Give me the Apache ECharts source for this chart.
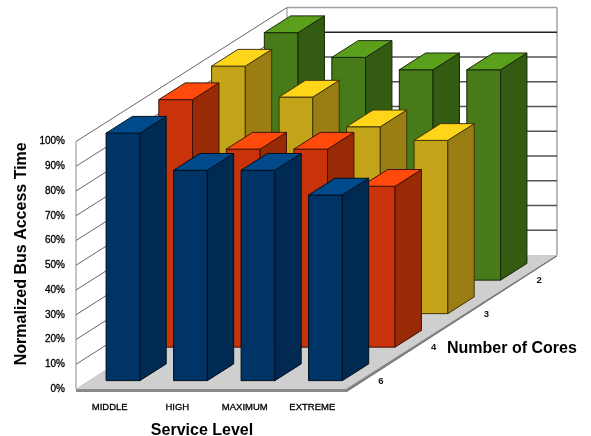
<!DOCTYPE html>
<html>
<head>
<meta charset="utf-8">
<style>html,body{margin:0;padding:0;background:#fff}#c{width:591px;height:436px;filter:blur(0.35px)}</style>
<script src="https://cdn.jsdelivr.net/npm/echarts@6/dist/echarts.min.js"></script>
</head>
<body>
<div id="c"></div>
<script>
var categories = ['MIDDLE', 'HIGH', 'MAXIMUM', 'EXTREME'];
var coreLabels = ['6', '4', '3', '2'];
var cores6 = [100, 85, 85, 75];
var cores4 = [100, 80, 80, 65];
var cores3 = [100, 87.5, 75.5, 70];
var cores2 = [100, 90, 85, 85];
var yTicks = [0, 10, 20, 30, 40, 50, 60, 70, 80, 90, 100];

var DX = 52.75, DY = -33.5;
function poly(points, fill, stroke, w) {
  return { type: 'polygon', shape: { points: points }, style: { fill: fill, stroke: stroke || 'none', lineWidth: w || 0, lineJoin: 'round' } };
}
function line(a, b, color, w) {
  return { type: 'line', shape: { x1: a[0], y1: a[1], x2: b[0], y2: b[1] }, style: { stroke: color, lineWidth: w, fill: 'none' } };
}
function barSeries(values, row, pal, z) {
  return {
    type: 'custom', z: z, coordinateSystem: 'cartesian2d', silent: true,
    data: values.map(function (v, i) { return [i, v]; }),
    encode: { x: 0, y: 1 },
    renderItem: function (params, api) {
      var top = api.coord([api.value(0), api.value(1)]);
      var base = api.coord([api.value(0), 0]);
      var w = api.size([1, 0])[0] / 2;
      var ox = DX * (row + 0.25), oy = DY * (row + 0.25);
      var dx = DX / 2, dy = DY / 2;
      var l = top[0] - w / 2 + ox, r = l + w;
      var t = top[1] + oy, b = base[1] + oy;
      return { type: 'group', children: [
        poly([[l, t], [r, t], [r, b], [l, b]], pal[0], pal[3], 1),
        poly([[r, t], [r + dx, t + dy], [r + dx, b + dy], [r, b]], pal[1], pal[3], 1),
        poly([[l, t], [l + dx, t + dy], [r + dx, t + dy], [r, t]], pal[2], pal[3], 1)
      ] };
    }
  };
}
var option = {
  animation: false,
  backgroundColor: '#fff',
  textStyle: { fontFamily: 'Liberation Sans' },
  grid: { left: 76, top: 141.5, width: 270, height: 247.5, outerBoundsMode: 'none' },
  xAxis: {
    type: 'category', data: categories,
    axisLine: { show: false }, axisTick: { show: false },
    axisLabel: { color: '#000', fontSize: 9.5, margin: 13, interval: 0, fontFamily: 'Liberation Sans', textBorderColor: '#000', textBorderWidth: 0.3 },
    name: 'Service Level', nameLocation: 'middle', nameGap: 34,
    nameTextStyle: { color: '#000', fontSize: 16, fontWeight: 'bold', fontFamily: 'Liberation Sans', padding: [0, 18, 0, 0] }
  },
  yAxis: {
    type: 'value', min: 0, max: 100, interval: 10,
    splitLine: { show: false }, axisLine: { show: false }, axisTick: { show: false },
    axisLabel: { color: '#000', fontSize: 10, margin: 11, formatter: '{value}%', fontFamily: 'Liberation Sans', padding: [5, 0, 0, 0], verticalAlign: 'middle', textBorderColor: '#000', textBorderWidth: 0.3 },
    name: 'Normalized Bus Access Time', nameLocation: 'middle', nameGap: 46,
    nameTextStyle: { color: '#000', fontSize: 16, fontWeight: 'bold', fontFamily: 'Liberation Sans', padding: [0, 0, 0, 23] }
  },
  series: [
    {
      type: 'custom', z: 1, coordinateSystem: 'cartesian2d', silent: true,
      data: yTicks.map(function (v) { return [0, v]; }),
      encode: { x: 0, y: 1 },
      renderItem: function (params, api) {
        var bw = api.size([1, 0])[0];
        var left = api.coord([0, 0])[0] - bw / 2;
        var right = left + bw * categories.length;
        var y = api.coord([0, api.value(1)])[1];
        var y0 = api.coord([0, 0])[1], y1 = api.coord([0, 100])[1];
        var n = coreLabels.length;
        var bx = DX * n, by = DY * n;
        var ch = [];
        if (params.dataIndex === 0) {
          ch.push(poly([[left, y1], [left + bx, y1 + by], [left + bx, y0 + by], [left, y0]], '#fff', 'none'));
          ch.push(poly([[left + bx, y1 + by], [right + bx, y1 + by], [right + bx, y0 + by], [left + bx, y0 + by]], '#fff', 'none'));
          ch.push(line([left, y1], [left, y0], '#8c8c8c', 1));
          ch.push(line([right + bx, y1 + by], [right + bx, y0 + by], '#8c8c8c', 1.2));
          ch.push(line([left + bx, y1 + by], [left + bx, y0 + by], '#8c8c8c', 1));
          ch.push(poly([[left, y0 + 3], [right, y0 + 3], [right + bx, y0 + by + 1], [right + bx, y0 + by], [left + bx, y0 + by], [left, y0]], '#888'));
          ch.push(poly([[left, y0], [right, y0], [right + bx, y0 + by], [left + bx, y0 + by]], '#cfcfcf'));
          ch.push(line([right, y0 + 3], [right + bx, y0 + by + 1], '#555', 0.8));
          coreLabels.forEach(function (t, i) {
            ch.push({ type: 'text', x: right + DX * (i + 0.5) + 8.5, y: y0 + DY * (i + 0.5) + 9,
              style: { text: t, fill: '#111', font: 'bold 9.5px "Liberation Sans"', align: 'center', verticalAlign: 'middle' } });
          });
          ch.push({ type: 'text', x: right + 101, y: y0 - 40,
            style: { text: 'Number of Cores', fill: '#000', font: 'bold 16px "Liberation Sans"', align: 'left', verticalAlign: 'middle' } });
        } else {
          var c = api.value(1) === 100 ? '#a0a0a0' : (api.value(1) === 90 ? '#222' : '#555');
          ch.push(line([left, y], [left + bx, y + by], '#666', 1));
          ch.push(line([left + bx, y + by], [right + bx, y + by], c, 1.5));
        }
        return { type: 'group', children: ch };
      }
    },
    barSeries(cores2, 3, ['#477a18', '#335c12', '#5aa01c', '#16280a'], 2),
    barSeries(cores3, 2, ['#c3a318', '#9a7e14', '#ffd519', '#3f3408'], 3),
    barSeries(cores4, 1, ['#c8330a', '#992a06', '#ff4a0c', '#3f1103'], 4),
    barSeries(cores6, 0, ['#003366', '#002a52', '#004a8c', '#00101f'], 5)
  ]
};
echarts.init(document.getElementById('c')).setOption(option);
</script>
</body>
</html>
